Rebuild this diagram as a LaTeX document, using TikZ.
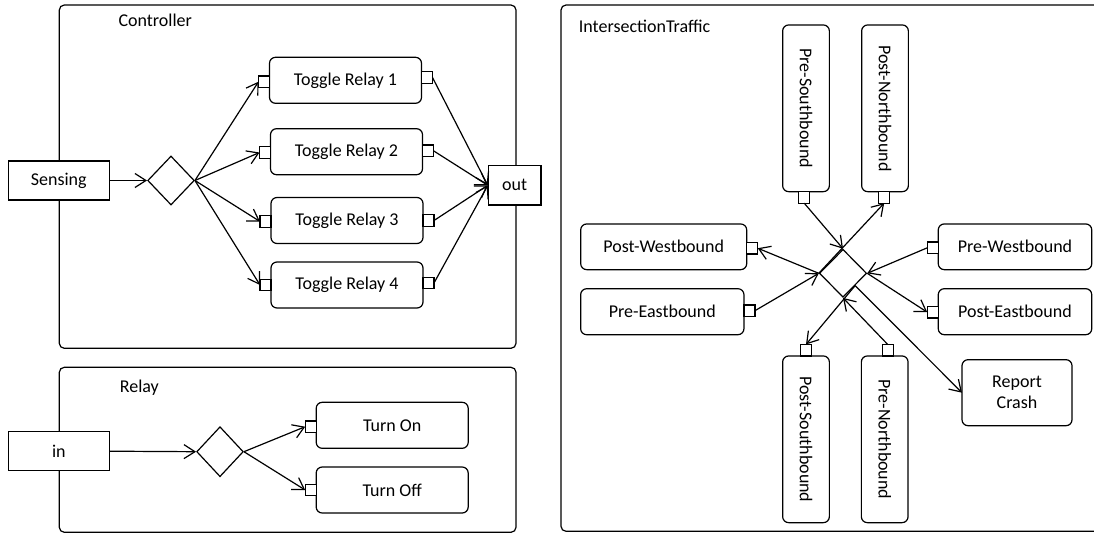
\documentclass[tikz,border=0pt]{standalone}
\usepackage{fontspec}
\setmainfont{Carlito}
\usepackage{tikz}
\usetikzlibrary{shapes.geometric,arrows.meta,positioning}

\begin{document}
\begin{tikzpicture}[
    x=1pt, y=-1pt,
    line width=1.2pt,
    font=\fontsize{18}{21}\selectfont,
    actframe/.style={draw, rounded corners=5pt},
    framelabel/.style={anchor=west, inner sep=0pt},
    param/.style={rectangle, draw, fill=white, minimum width=101pt, minimum height=39pt, inner sep=0pt},
    actbox/.style={rectangle, rounded corners=6pt, draw, fill=white, outer sep=0pt,
                   minimum width=152pt, minimum height=46pt, inner sep=0pt},
    vactbox/.style={actbox, minimum width=46.7pt, minimum height=166.7pt},
    portbox/.style={rectangle, draw, fill=white, outer sep=0pt,
                    minimum width=11pt, minimum height=11.5pt, inner sep=0pt},
    decision/.style={diamond, draw, fill=white, minimum width=46.7pt, minimum height=49pt, inner sep=0pt},
    flow/.style={-{Straight Barb[length=11pt,width=14pt]}}
]
    \useasboundingbox (0,0) rectangle (1094,533);

    % Frames
    \draw[actframe] (59.3,5) rectangle (516,348.3);
    \node[framelabel] (ctrllabel) at (118,20.7) {Controller};
    \draw[actframe] (59.3,367.3) rectangle (516,532.3);
    \node[framelabel] (relaylabel) at (119.3,387.3) {Relay};
    \draw[actframe] (1094,5) -- (561,5) -- (561,531.3) -- (1094,531.3);
    \node[framelabel] (xlabel) at (578.3,26.7) {IntersectionTraffic};

    % Controller
    \node[param] (sensing) at (58.8,180.5) {Sensing};
    \node[decision] (ctrldia) at (171,180.5) {};
    \node[actbox] (tr1) at (345.5,80.3) {Toggle Relay 1};
    \node[actbox] (tr2) at (346.5,151.7) {Toggle Relay 2};
    \node[actbox] (tr3) at (347,220.5) {Toggle Relay 3};
    \node[actbox] (tr4) at (347,285) {Toggle Relay 4};
    \node[param, minimum width=52.6pt, minimum height=39.3pt] (out) at (514.7,185.3) {out};

    \node[portbox, left=0pt of tr1, yshift=-1.4pt] (tr1in) {};
    \node[portbox, left=0pt of tr2, yshift=-0.8pt] (tr2in) {};
    \node[portbox, left=0pt of tr3, yshift=-1pt] (tr3in) {};
    \node[portbox, left=0pt of tr4] (tr4in) {};
    \node[portbox, right=0pt of tr1, yshift=2.8pt] (tr1out) {};
    \node[portbox, right=0pt of tr2, yshift=0.9pt] (tr2out) {};
    \node[portbox, right=0pt of tr3] (tr3out) {};
    \node[portbox, right=0pt of tr4, yshift=2pt] (tr4out) {};

    \draw[flow] (sensing) -- (ctrldia);
    \draw[flow] (ctrldia.east) -- (tr1in.west);
    \draw[flow] (ctrldia.east) -- (tr2in.west);
    \draw[flow] (ctrldia.east) -- (tr3in.west);
    \draw[flow] (ctrldia.east) -- (tr4in.west);
    \draw[flow] (tr1out.east) -- (out.west);
    \draw[flow] (tr2out.east) -- (out.west);
    \draw[flow] (tr3out.east) -- (out.west);
    \draw[flow] (tr4out.east) -- (out.west);

    % Relay
    \node[param] (in) at (58.8,451.2) {in};
    \node[decision, minimum height=50pt] (relaydia) at (220,451.7) {};
    \node[actbox] (turnon) at (392.2,425.3) {Turn On};
    \node[actbox] (turnoff) at (392.2,490) {Turn Off};
    \node[portbox, left=0pt of turnon, yshift=-1.4pt] (onin) {};
    \node[portbox, left=0pt of turnoff] (offin) {};

    \draw[flow] (in.east) -- (relaydia.west);
    \draw[flow] (relaydia.east) -- (onin.west);
    \draw[flow] (relaydia.east) -- (offin.west);

    % IntersectionTraffic
    \node[decision, minimum width=47.3pt, minimum height=48pt] (xdia) at (843,273.3) {};
    \node[vactbox] (presouth) at (806,108.3) {\rotatebox{-90}{Pre-Southbound}};
    \node[vactbox] (postnorth) at (885,108.3) {\rotatebox{-90}{Post-Northbound}};
    \node[vactbox] (postsouth) at (806,439.3) {\rotatebox{-90}{Post-Southbound}};
    \node[vactbox] (prenorth) at (884.7,439.3) {\rotatebox{-90}{Pre-Northbound}};
    \node[actbox, minimum width=166pt, minimum height=45.7pt] (postwest) at (663.7,246.8) {Post-Westbound};
    \node[actbox, minimum width=163.3pt] (preeast) at (662.3,311.7) {Pre-Eastbound};
    \node[actbox, minimum width=153.5pt, minimum height=45.7pt] (prewest) at (1015,246.8) {Pre-Westbound};
    \node[actbox, minimum width=153.5pt] (posteast) at (1015,311.7) {Post-Eastbound};
    \node[actbox, minimum width=110pt, minimum height=66pt, align=center] (report) at (1017,392.7) {Report\\Crash};

    \node[portbox, below=0pt of presouth, xshift=-1.8pt] (presouthp) {};
    \node[portbox, below=0pt of postnorth, xshift=-0.8pt] (postnorthp) {};
    \node[portbox, above=0pt of postsouth] (postsouthp) {};
    \node[portbox, above=0pt of prenorth, xshift=3pt] (prenorthp) {};
    \node[portbox, right=0pt of postwest, yshift=-1.4pt] (postwestp) {};
    \node[portbox, right=0pt of preeast, yshift=1pt] (preeastp) {};
    \node[portbox, left=0pt of prewest, yshift=-1pt] (prewestp) {};
    \node[portbox, left=0pt of posteast, yshift=-0.5pt] (posteastp) {};

    \draw[flow] (presouthp.south) -- (xdia.north);
    \draw[flow] (xdia.west) -- (postnorthp.south);
    \draw[flow] (xdia.west) -- (postwestp.east);
    \draw[flow] (preeastp.east) -- (xdia.west);
    \draw[flow] (prewestp.west) -- (xdia.east);
    \draw[flow] (xdia.east) -- (posteastp.west);
    \draw[flow] (prenorthp.north) -- (xdia.south);
    \draw[flow] (xdia.south east) -- (postsouthp.north);
    \draw[flow] (xdia.south east) -- (report.west);
\end{tikzpicture}
\end{document}
